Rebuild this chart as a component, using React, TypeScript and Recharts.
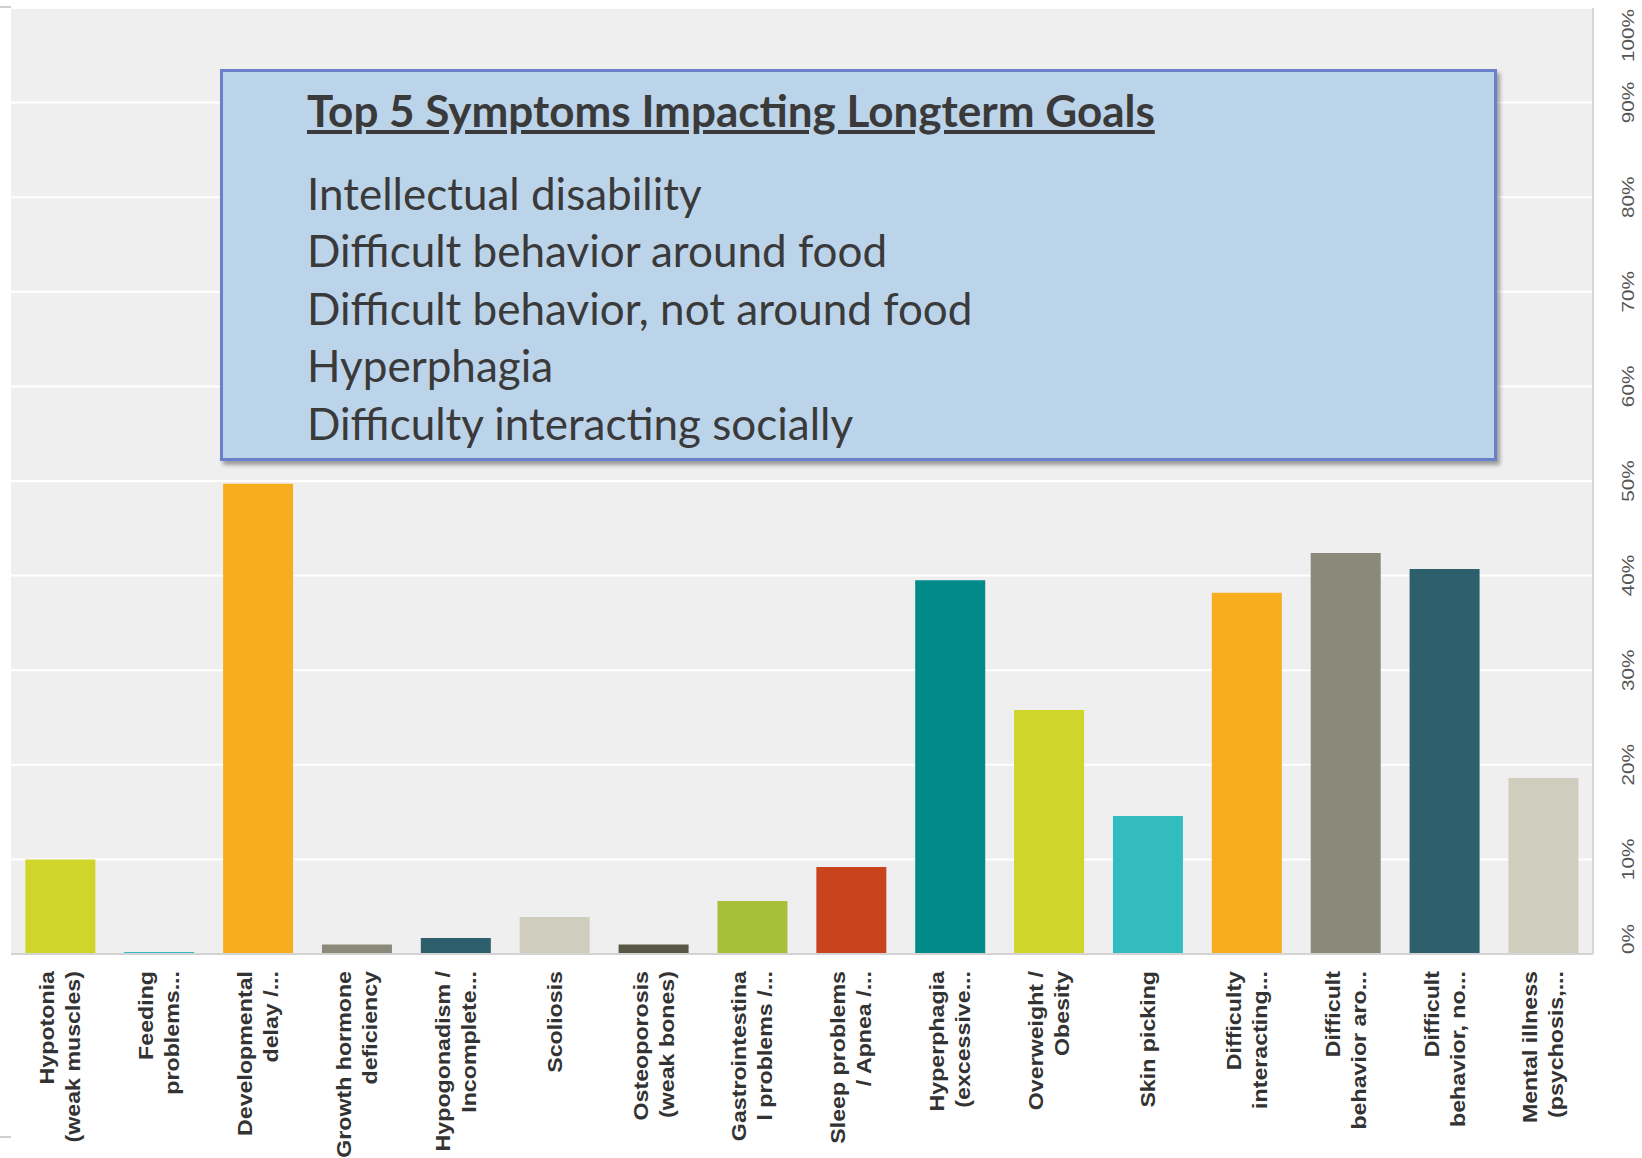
import { BarChart, Bar, XAxis, YAxis, CartesianGrid, Cell } from "recharts";

const categories = [
  "Hypotonia\n(weak muscles)",
  "Feeding\nproblems...",
  "Developmental\ndelay /...",
  "Growth hormone\ndeficiency",
  "Hypogonadism /\nIncomplete...",
  "Scoliosis",
  "Osteoporosis\n(weak bones)",
  "Gastrointestina\nl problems /...",
  "Sleep problems\n/ Apnea /...",
  "Hyperphagia\n(excessive...",
  "Overweight /\nObesity",
  "Skin picking",
  "Difficulty\ninteracting...",
  "Difficult\nbehavior aro...",
  "Difficult\nbehavior, no...",
  "Mental illness\n(psychosis,...",
];

const percentages = [10, 0.2, 49.7, 1.0, 1.7, 3.9, 1.0, 5.6, 9.2, 39.5, 25.8, 14.6, 38.2, 42.4, 40.7, 18.6];

const palette = ["#cfd52a", "#33bcbf", "#f6ae1f", "#8a8a7a", "#2e5f6c", "#cfcdbe", "#585848", "#a8bf3a", "#c9441c", "#008a8a"];

const yTicks = [0, 10, 20, 30, 40, 50, 60, 70, 80, 90, 100];

const topSymptoms = [
  "Intellectual disability",
  "Difficult behavior around food",
  "Difficult behavior, not around food",
  "Hyperphagia",
  "Difficulty interacting socially",
];

const data = categories.map((name, i) => ({ name, value: percentages[i] }));

// labels in the source are drawn stretched along the text direction
function XTick({ x, y, payload }: any) {
  const lines = String(payload.value).split("\n");
  const fs = 19.5;
  const gap = 26;
  const start = -((lines.length - 1) * gap) / 2;
  return (
    <g transform={`translate(${x},${y + 17}) rotate(-90) scale(1.19,1)`}>
      {lines.map((ln, i) => (
        <text
          key={i}
          x={0}
          y={start + i * gap + fs * 0.35}
          textAnchor="end"
          fontSize={fs}
          fontWeight="bold"
          fontFamily="'Liberation Sans', Arial, sans-serif"
          fill="#333"
        >
          {ln}
        </text>
      ))}
    </g>
  );
}

function YTick({ x, y, payload }: any) {
  const v = payload.value;
  const anchor = v === 0 ? "start" : v === 100 ? "end" : "middle";
  return (
    <g transform={`translate(${x + 35},${y}) rotate(-90) scale(1.22,1)`}>
      <text x={0} y={6} textAnchor={anchor} fontSize={17} fontFamily="'Liberation Sans', Arial, sans-serif" fill="#555">
        {v}%
      </text>
    </g>
  );
}

export default function App() {
  return (
    <div style={{ position: "absolute", left: 0, top: 0, width: 1642, height: 1158, background: "#fff" }}>
      <BarChart width={1642} height={1158} data={data} margin={{ top: 8, right: 0, bottom: 0, left: 11 }} barCategoryGap="14.5%">
        <CartesianGrid fill="#efefef" stroke="#ffffff" strokeWidth={2} vertical={false} />
        <XAxis
          dataKey="name"
          interval={0}
          height={204}
          tickLine={false}
          tickSize={0}
          tickMargin={0}
          axisLine={{ stroke: "#d3d3d3", strokeWidth: 2 }}
          tick={<XTick />}
        />
        <YAxis
          orientation="right"
          width={49}
          domain={[0, 100]}
          ticks={yTicks}
          tickLine={false}
          tickSize={0}
          tickMargin={0}
          axisLine={{ stroke: "#d6d6d6", strokeWidth: 2 }}
          tick={<YTick />}
        />
        <Bar dataKey="value" isAnimationActive={false}>
          {data.map((_, i) => (
            <Cell key={i} fill={palette[i % palette.length]} />
          ))}
        </Bar>
      </BarChart>

      <div style={{ position: "absolute", left: 0, top: 6, width: 11, height: 2, background: "#cfcfcf" }} />
      <div style={{ position: "absolute", left: 0, top: 1136, width: 11, height: 2, background: "#cfcfcf" }} />

      <div
        style={{
          position: "absolute",
          left: 220,
          top: 69,
          width: 1277,
          height: 392,
          boxSizing: "border-box",
          background: "#bcd4ea",
          border: "3px solid #6b80cb",
          boxShadow: "3px 4px 4px rgba(0,0,0,0.35)",
          fontFamily: "Lato, 'Open Sans', sans-serif",
          color: "#3a3a3a",
        }}
      >
        <div style={{ position: "absolute", left: 84, top: 9.5, fontSize: 44, lineHeight: "57px", fontWeight: "bold", textDecoration: "underline", whiteSpace: "nowrap" }}>
          Top 5 Symptoms Impacting Longterm Goals
        </div>
        <div style={{ position: "absolute", left: 84, top: 92.5, fontSize: 44, lineHeight: "57.5px", whiteSpace: "nowrap" }}>
          {topSymptoms.map((s) => (
            <div key={s}>{s}</div>
          ))}
        </div>
      </div>
    </div>
  );
}
